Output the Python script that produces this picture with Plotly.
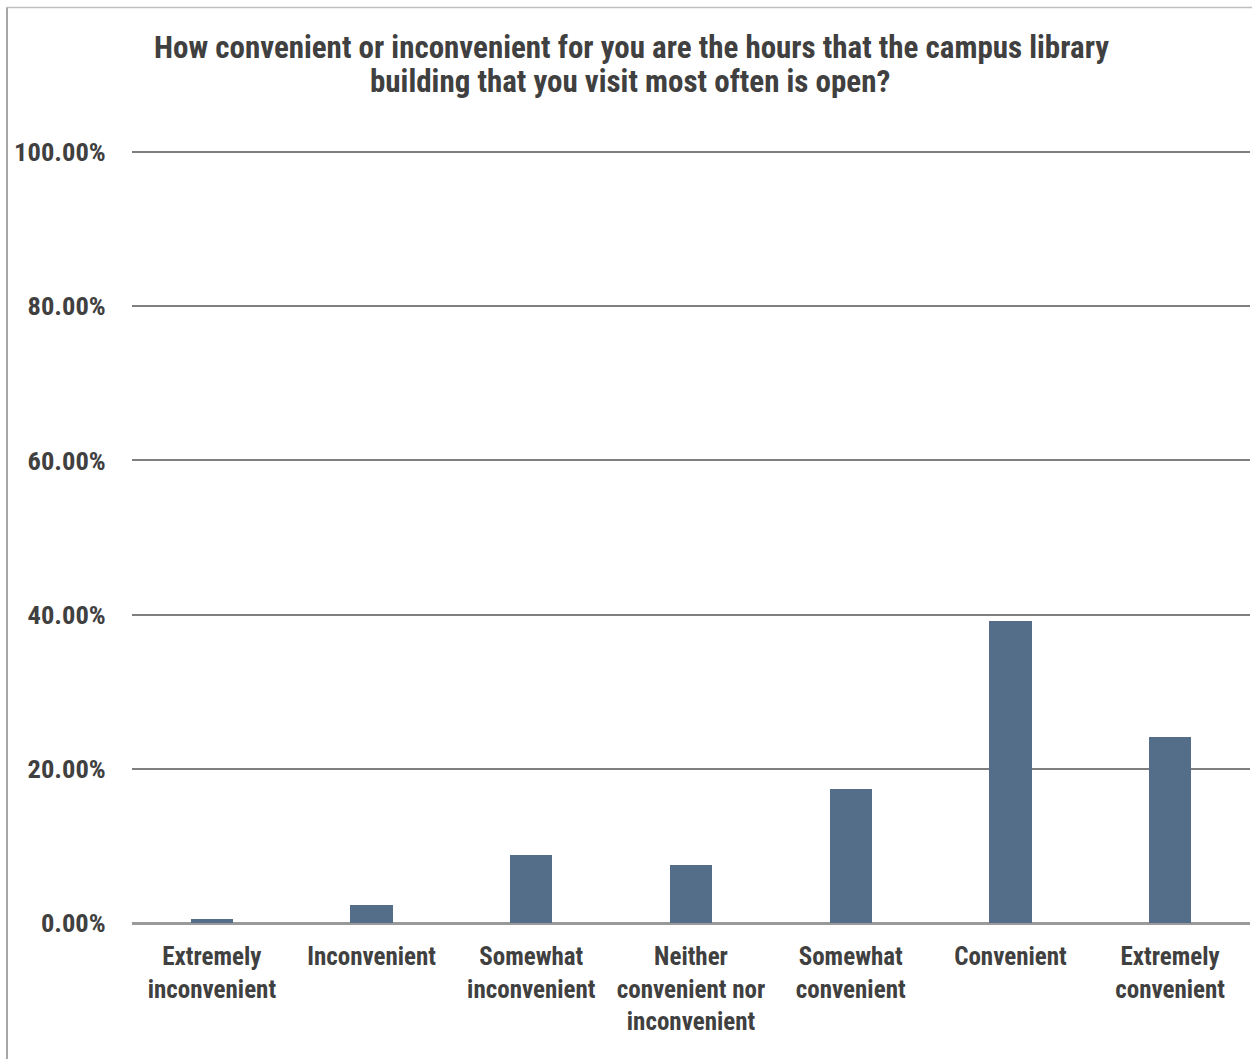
import plotly.graph_objects as go

# Survey responses: share of respondents per answer (percent)
categories = [
    "Extremely<br>inconvenient",
    "Inconvenient",
    "Somewhat<br>inconvenient",
    "Neither<br>convenient nor<br>inconvenient",
    "Somewhat<br>convenient",
    "Convenient",
    "Extremely<br>convenient",
]
shares = [0.5, 2.3, 8.8, 7.5, 17.4, 39.2, 24.1]
y_ticks = [0, 20, 40, 60, 80, 100]
title_lines = [
    "How convenient or inconvenient for you are the hours that the campus library",
    "building that you visit most often is open?",
]

FONT = "Liberation Sans Narrow, Arial Narrow, Roboto Condensed, Liberation Sans, Arial, sans-serif"
TEXT = "#404040"
BAR = "#546e8a"

W, H = 1252, 1059
L, R, T, B = 132, 2, 150, 136

pw = W - L - R
ph = H - T - B


def px_x(p):
    return (p - L) / pw


def px_y(p):
    return (H - B - p) / ph


fig = go.Figure(
    go.Bar(
        x=list(range(len(categories))),
        y=shares,
        marker=dict(color=BAR, line=dict(width=0)),
        width=0.265,
        hoverinfo="skip",
    )
)

# two-line chart title, each line placed on its own
title_annotations = [
    dict(
        text=f"<b>{line}</b>",
        xref="paper", yref="paper",
        x=px_x(cx), y=px_y(cy),
        xanchor="center", yanchor="middle",
        showarrow=False,
        font=dict(family=FONT, size=31, color=TEXT),
    )
    for line, cx, cy in zip(title_lines, [631, 630], [47, 82])
]

fig.update_layout(
    width=W,
    height=H,
    margin=dict(l=L, r=R, t=T, b=B, pad=0),
    paper_bgcolor="white",
    plot_bgcolor="white",
    showlegend=False,
    bargap=0,
    font=dict(family=FONT, color=TEXT),
    annotations=title_annotations,
    xaxis=dict(
        range=[-0.5, len(categories) - 0.5],
        tickmode="array",
        tickvals=list(range(len(categories))),
        ticktext=[f"<b>{c}</b>" for c in categories],
        tickfont=dict(family=FONT, size=25, color=TEXT),
        showgrid=False,
        showline=False,
        zeroline=False,
        ticks="outside",
        ticklen=11,
        tickcolor="rgba(0,0,0,0)",
        fixedrange=True,
    ),
    yaxis=dict(
        range=[0, 100.26],
        tickmode="array",
        tickvals=y_ticks,
        ticktext=[f"<b>{v:.2f}%</b>" for v in y_ticks],
        tickfont=dict(family=FONT, size=26.5, color=TEXT),
        showgrid=True,
        gridcolor="#7f7f7f",
        gridwidth=1.5,
        zeroline=True,
        zerolinecolor="#9a9a9a",
        zerolinewidth=2.5,
        showline=False,
        ticks="outside",
        ticklen=20,
        tickcolor="rgba(0,0,0,0)",
        fixedrange=True,
    ),
    shapes=[
        # chart frame: left and top edges
        dict(type="line", xref="paper", yref="paper",
             x0=px_x(7), x1=px_x(7), y0=px_y(7), y1=px_y(H + 5),
             line=dict(color="#a6a6a6", width=2)),
        dict(type="line", xref="paper", yref="paper",
             x0=px_x(6), x1=px_x(W + 5), y0=px_y(7.5), y1=px_y(7.5),
             line=dict(color="#bfbfbf", width=1.5)),
    ],
)

fig.write_html("out.html")
